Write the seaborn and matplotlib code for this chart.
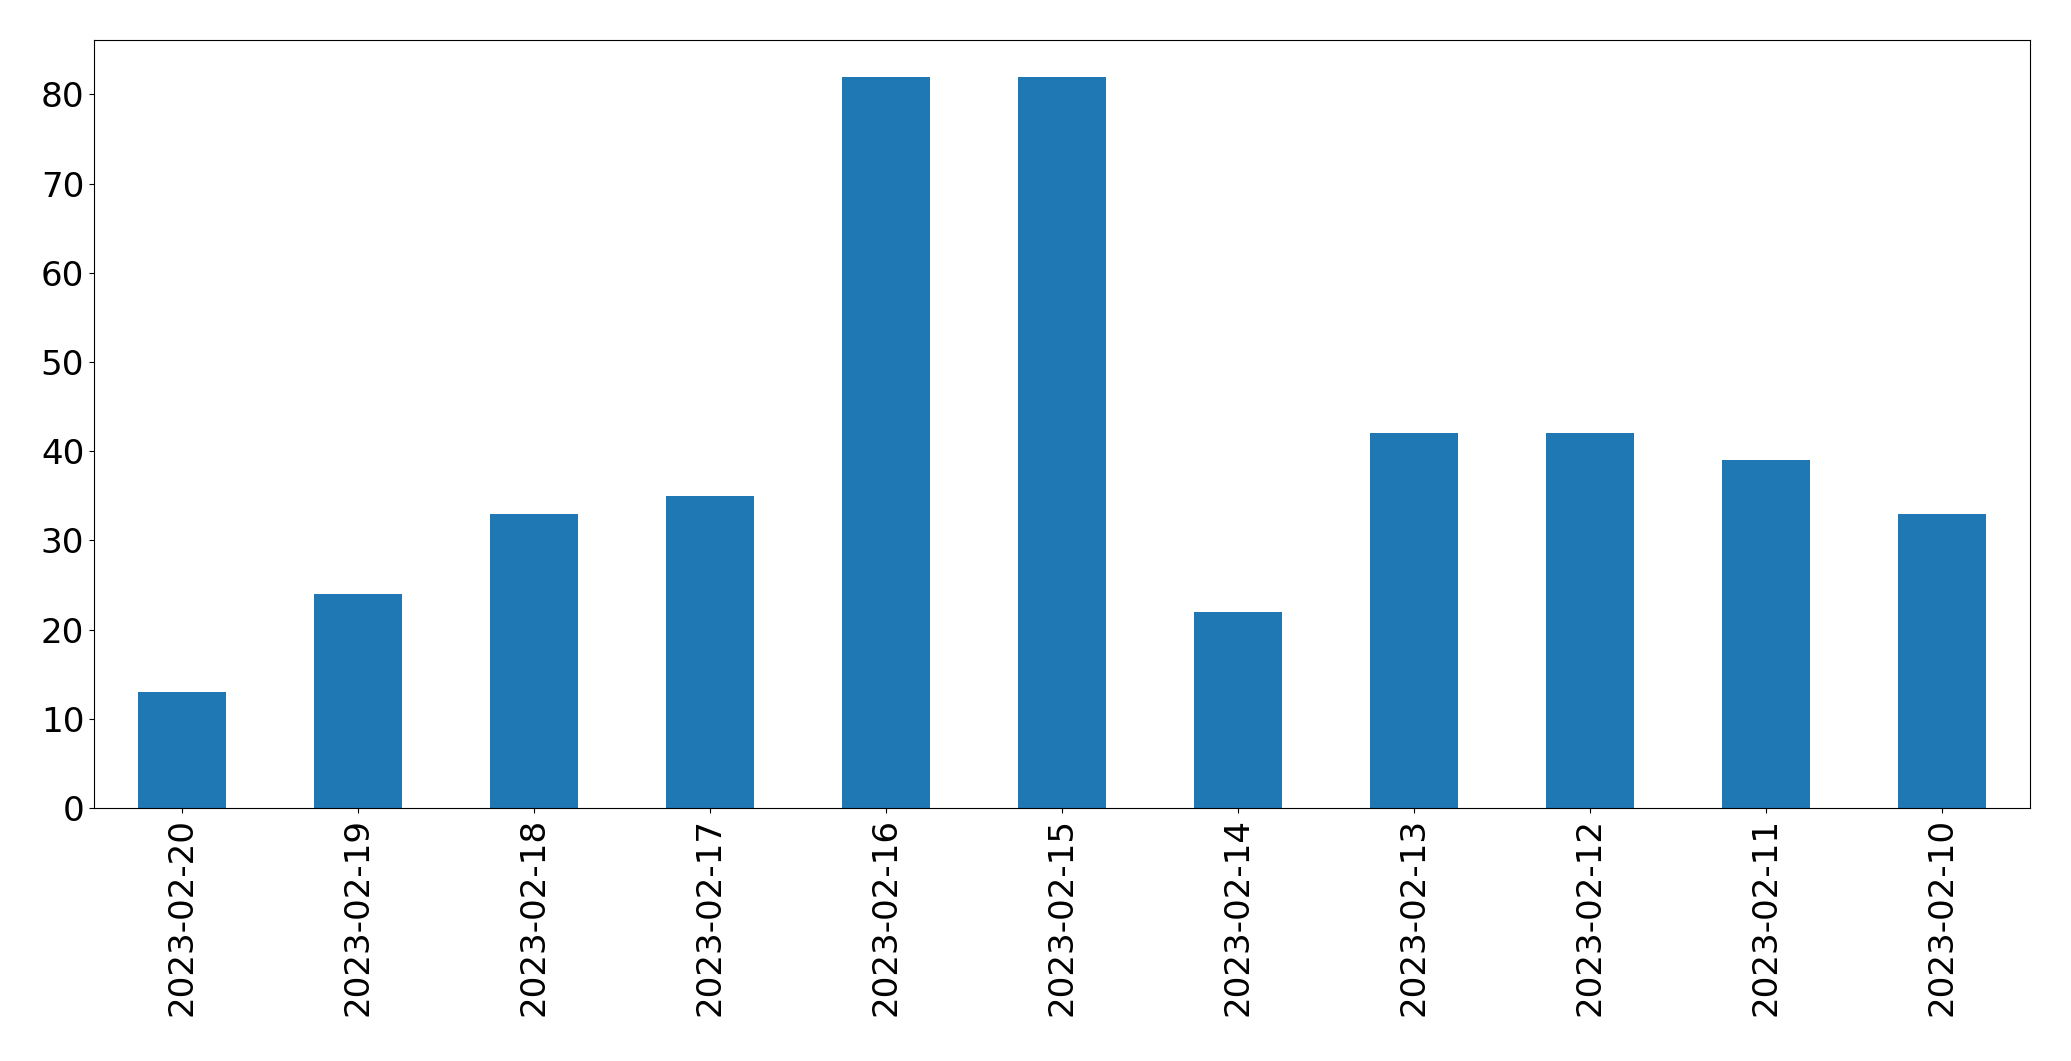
import matplotlib
matplotlib.use("Agg")
import matplotlib.pyplot as plt
import seaborn as sns
import pandas as pd

dates = ["2023-02-20", "2023-02-19", "2023-02-18", "2023-02-17", "2023-02-16",
         "2023-02-15", "2023-02-14", "2023-02-13", "2023-02-12", "2023-02-11",
         "2023-02-10"]
counts = [13, 24, 33, 35, 82, 82, 22, 42, 42, 39, 33]

df = pd.DataFrame({"date": dates, "count": counts})

fig = plt.figure(figsize=(20.71, 10.61), dpi=100)
ax = fig.add_axes([94 / 2071, 1 - 808 / 1061, (2030 - 94) / 2071, (808 - 40) / 1061])
sns.barplot(data=df, x="date", y="count", order=dates, color="#1f77b4",
            saturation=1, width=0.5, linewidth=0, ax=ax)
ax.set_xlim(-0.5, len(dates) - 0.5)
ax.set_ylim(0, max(counts) * 1.05)
ax.set_xlabel("")
ax.set_ylabel("")
ax.tick_params(axis="both", labelsize=24.6)
ax.tick_params(axis="x", labelrotation=90)
fig.savefig("out.png", dpi=100)
